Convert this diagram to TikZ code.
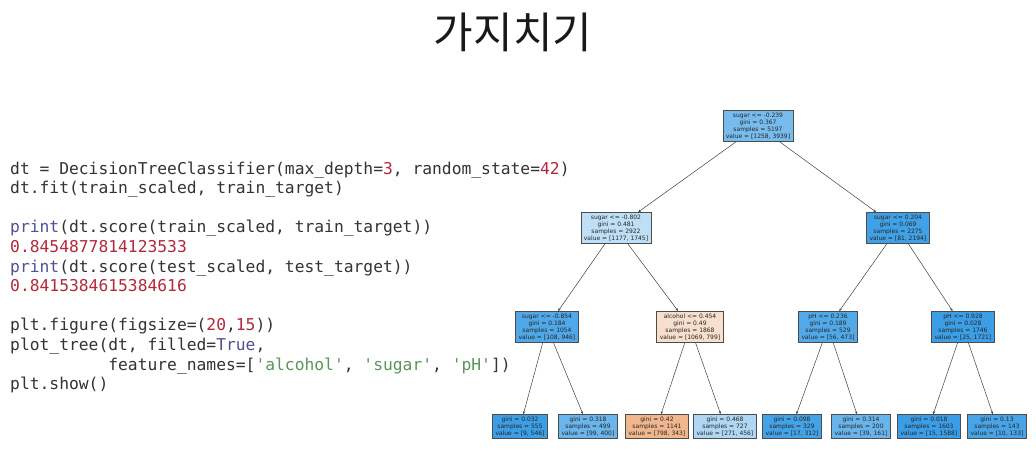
\documentclass[tikz,border=0pt]{standalone}
\usepackage{fontspec}
\setmainfont{DejaVu Sans}
\newfontfamily\krfont{Noto Sans CJK KR}
\newfontfamily\codefont{DejaVu Sans Mono}
\usetikzlibrary{arrows.meta}
\definecolor{codegray}{RGB}{51,51,51}
\definecolor{kwc}{RGB}{80,80,150}
\definecolor{numc}{RGB}{180,40,60}
\definecolor{strc}{RGB}{90,150,90}
\definecolor{cRoot}{RGB}{120,188,237}
\definecolor{cLL}{RGB}{191,223,246}
\definecolor{cLR}{RGB}{64,161,230}
\definecolor{cA}{RGB}{80,168,232}
\definecolor{cB}{RGB}{248,223,205}
\definecolor{cC}{RGB}{82,169,232}
\definecolor{cD}{RGB}{60,158,229}
\definecolor{cL1}{RGB}{60,158,229}
\definecolor{cL2}{RGB}{106,181,235}
\definecolor{cL3}{RGB}{240,183,142}
\definecolor{cL4}{RGB}{175,215,244}
\definecolor{cL5}{RGB}{68,162,230}
\definecolor{cL6}{RGB}{105,180,235}
\definecolor{cL7}{RGB}{58,157,229}
\definecolor{cL8}{RGB}{72,164,231}
\def\sq{\char39\relax}
\begin{document}
\begin{tikzpicture}[x=1pt,y=-1pt,
  tn/.style={draw=black!70, line width=0.6pt, font=\fontsize{6}{7.2}\selectfont,
    align=center, inner xsep=3pt, inner ysep=2.2pt, text=black!85},
  edge/.style={draw=black!75, line width=0.5pt, -{Stealth[length=3pt,width=2.4pt]}},
  code/.style={anchor=base west, inner sep=0pt, font=\codefont\fontsize{16.3}{19.6}\selectfont, text=codegray}]
\useasboundingbox[fill=white] (0,0) rectangle (1036,451);

\node[anchor=base, inner sep=0pt, font=\krfont\fontsize{43}{50}\selectfont, text=black!90] (title) at (513,48) {가지치기};

% code
\node[code] (c1) at (10,174) {dt = DecisionTreeClassifier(max\_depth=\textcolor{numc}{3}, random\_state=\textcolor{numc}{42})};
\node[code] (c2) at (10,193.6) {dt.fit(train\_scaled, train\_target)};
\node[code] (c4) at (10,232.8) {\textcolor{kwc}{print}(dt.score(train\_scaled, train\_target))};
\node[code, text=numc] (c5) at (10,252.4) {0.8454877814123533};
\node[code] (c6) at (10,272) {\textcolor{kwc}{print}(dt.score(test\_scaled, test\_target))};
\node[code, text=numc] (c7) at (10,291.6) {0.8415384615384616};
\node[code] (c9) at (10,330.8) {plt.figure(figsize=(\textcolor{numc}{20},\textcolor{numc}{15}))};
\node[code] (c10) at (10,350.4) {plot\_tree(dt, filled=\textcolor{kwc}{True},};
\node[code] (c11) at (10,370) {\hphantom{plot\_tree(}feature\_names=[\textcolor{strc}{\sq alcohol\sq}, \textcolor{strc}{\sq sugar\sq}, \textcolor{strc}{\sq pH\sq}])};
\node[code] (c12) at (10,389.6) {plt.show()};

% tree
\node[tn, fill=cRoot] (root) at (758,126) {sugar <= -0.239\\gini = 0.367\\samples = 5197\\value = [1258, 3939]};
\node[tn, fill=cLL] (l1l) at (616,228) {sugar <= -0.802\\gini = 0.481\\samples = 2922\\value = [1177, 1745]};
\node[tn, fill=cLR] (l1r) at (898,228) {sugar <= 0.204\\gini = 0.069\\samples = 2275\\value = [81, 2194]};
\node[tn, fill=cA] (l2a) at (547,327) {sugar <= -0.854\\gini = 0.184\\samples = 1054\\value = [108, 946]};
\node[tn, fill=cB] (l2b) at (690,327) {alcohol <= 0.454\\gini = 0.49\\samples = 1868\\value = [1069, 799]};
\node[tn, fill=cC] (l2c) at (828,327) {pH <= 0.236\\gini = 0.189\\samples = 529\\value = [56, 473]};
\node[tn, fill=cD] (l2d) at (963,327) {pH <= 0.928\\gini = 0.028\\samples = 1746\\value = [25, 1721]};
\node[tn, fill=cL1] (f1) at (520,426.5) {gini = 0.032\\samples = 555\\value = [9, 546]};
\node[tn, fill=cL2] (f2) at (588,426.5) {gini = 0.318\\samples = 499\\value = [99, 400]};
\node[tn, fill=cL3] (f3) at (657,426.5) {gini = 0.42\\samples = 1141\\value = [798, 343]};
\node[tn, fill=cL4] (f4) at (725,426.5) {gini = 0.468\\samples = 727\\value = [271, 456]};
\node[tn, fill=cL5] (f5) at (792,426.5) {gini = 0.098\\samples = 329\\value = [17, 312]};
\node[tn, fill=cL6] (f6) at (861,426.5) {gini = 0.314\\samples = 200\\value = [39, 161]};
\node[tn, fill=cL7] (f7) at (929,426.5) {gini = 0.018\\samples = 1603\\value = [15, 1588]};
\node[tn, fill=cL8] (f8) at (997,426.5) {gini = 0.13\\samples = 143\\value = [10, 133]};

\draw[edge] (root) -- (l1l);
\draw[edge] (root) -- (l1r);
\draw[edge] (l1l) -- (l2a);
\draw[edge] (l1l) -- (l2b);
\draw[edge] (l1r) -- (l2c);
\draw[edge] (l1r) -- (l2d);
\draw[edge] (l2a) -- (f1);
\draw[edge] (l2a) -- (f2);
\draw[edge] (l2b) -- (f3);
\draw[edge] (l2b) -- (f4);
\draw[edge] (l2c) -- (f5);
\draw[edge] (l2c) -- (f6);
\draw[edge] (l2d) -- (f7);
\draw[edge] (l2d) -- (f8);
\end{tikzpicture}
\end{document}
